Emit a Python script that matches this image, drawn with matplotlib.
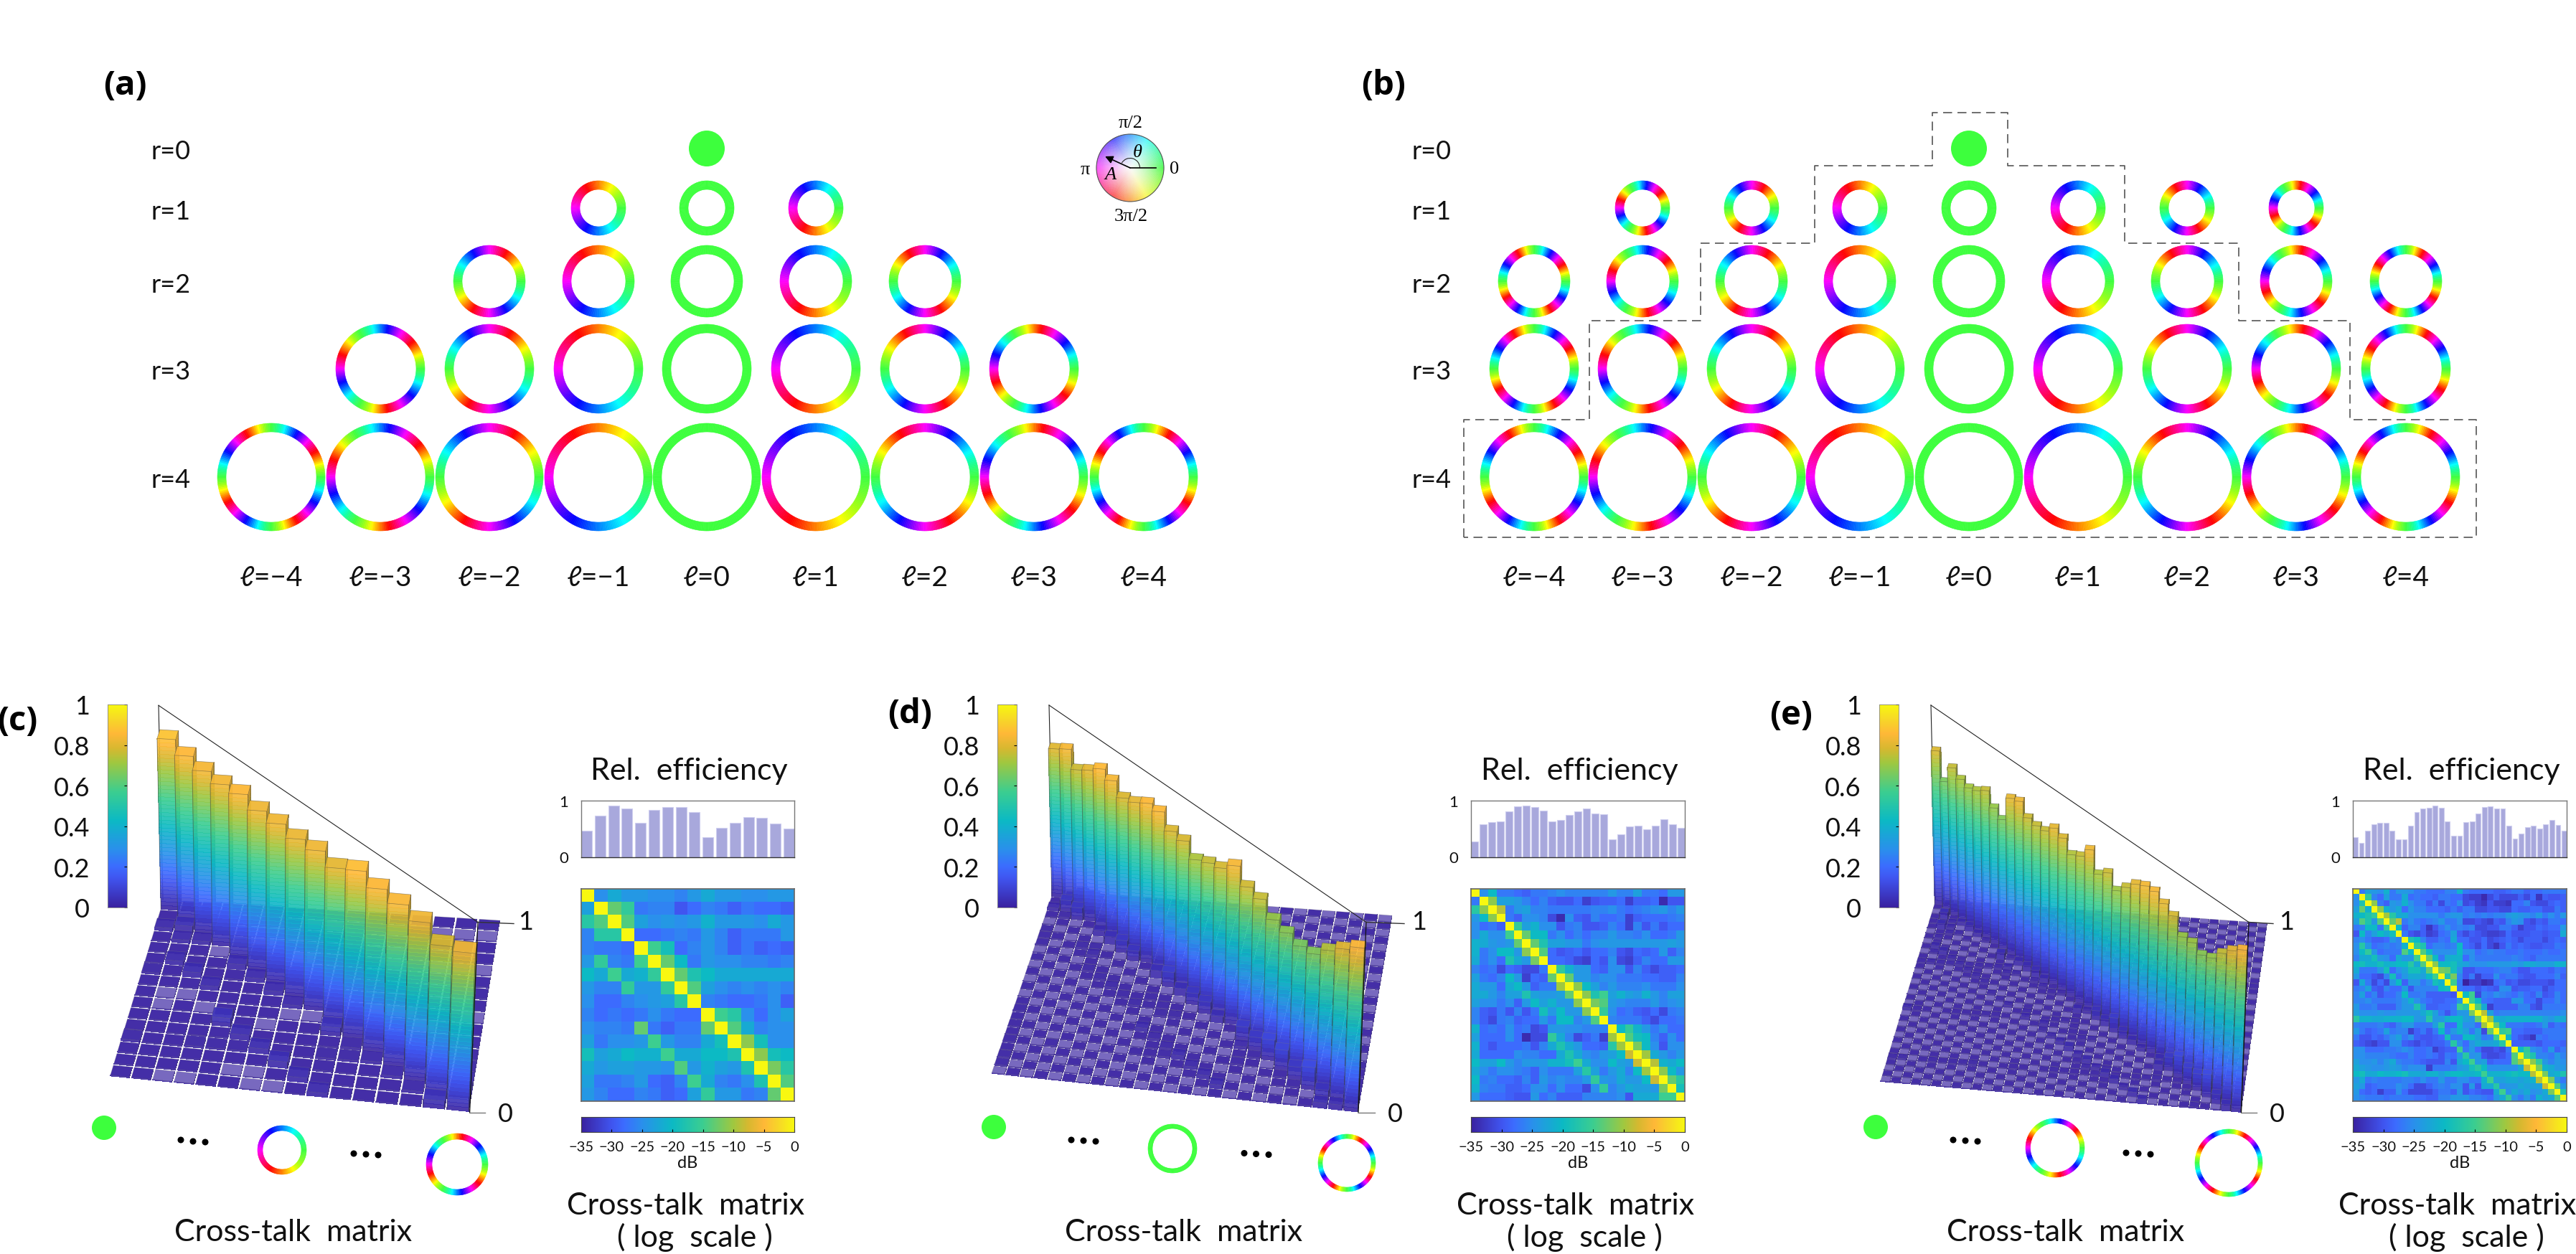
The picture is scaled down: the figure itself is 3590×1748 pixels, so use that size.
"""Mode rings for OAM/radial modes and cross-talk panels, redrawn with matplotlib."""
import numpy as np

import matplotlib
matplotlib.use("Agg")
import matplotlib.pyplot as plt
from matplotlib.collections import PolyCollection
from matplotlib.colors import LinearSegmentedColormap, hsv_to_rgb
from matplotlib.patches import Arc, Circle

# ---- data ----
L_VALUES = [-4, -3, -2, -1, 0, 1, 2, 3, 4]
R_VALUES = [0, 1, 2, 3, 4]
MAX_L_A = [0, 1, 2, 3, 4]   # largest |l| drawn per r, panel (a)
MAX_L_B = [0, 3, 4, 4, 4]   # same, panel (b)

TICKS_3D = [0, 0.2, 0.4, 0.6, 0.8, 1]
TICKS_DB = [-35, -30, -25, -20, -15, -10, -5, 0]

EFF_C = [.46, .73, .91, .86, .61, .83, .89, .89, .79, .35, .52, .60, .71, .69, .59, .50]
EFF_D = [.27, .58, .62, .63, .81, .90, .91, .88, .82, .63, .65, .74, .81, .86, .77, .76,
         .31, .40, .54, .55, .49, .56, .67, .58, .51]
EFF_E = [.35, .25, .46, .58, .61, .61, .47, .31, .31, .55, .80, .86, .87, .91, .87, .63, .38, .38,
         .62, .63, .77, .88, .90, .86, .86, .55, .33, .41, .53, .55, .50, .58, .65, .57, .46]

DIAG_C = [.88, .855, .84, .835, .85, .83, .83, .82, .83, .81, .87, .85, .845, .83, .785, .83]
DIAG_D = [.80, .84, .77, .81, .86, .84, .79, .81, .85, .85, .79, .785, .73, .76, .78, .84,
          .775, .76, .70, .68, .66, .67, .74, .80, .86]
DIAG_E = [.79, .66, .76, .73, .715, .73, .76, .70, .67, .81, .825, .77, .76, .765, .81, .79, .735, .76,
          .825, .73, .77, .71, .76, .81, .835, .84, .81, .78, .705, .71, .68, .70, .76, .81, .85]

DB_C = [
    [0, -25, -22, -24, -24, -25, -25, -26, -24, -22, -24, -24, -25, -25, -24, -24],
    [-23, 0, -13, -16, -27, -26, -26, -30, -28, -26, -27, -29, -27, -28, -28, -29],
    [-17, -14, 0, -14, -23, -25, -24, -25, -24, -21, -24, -24, -24, -25, -22, -24],
    [-26, -17, -17, 0, -28, -28, -27, -26, -27, -24, -26, -29, -27, -27, -27, -24],
    [-26, -27, -27, -28, 0, -15, -19, -28, -26, -24, -26, -29, -27, -29, -28, -29],
    [-24, -16, -26, -27, -15, 0, -13, -20, -27, -24, -25, -25, -26, -26, -27, -26],
    [-20, -22, -15, -22, -21, -16, 0, -13, -18, -20, -22, -22, -22, -22, -22, -22],
    [-24, -26, -26, -16, -24, -24, -16, 0, -14, -23, -25, -26, -25, -26, -25, -26],
    [-25, -28, -28, -26, -25, -24, -23, -17, 0, -26, -27, -28, -28, -27, -25, -29],
    [-26, -28, -27, -28, -27, -25, -27, -28, -28, 0, -15, -17, -25, -28, -25, -23],
    [-25, -26, -26, -27, -13, -27, -29, -27, -27, -13, 0, -14, -22, -26, -25, -25],
    [-23, -27, -25, -25, -24, -15, -24, -26, -26, -22, -19, 0, -11, -19, -25, -25],
    [-19, -23, -22, -20, -21, -21, -15, -22, -22, -20, -20, -18, 0, -11, -19, -20],
    [-22, -24, -23, -23, -24, -24, -25, -14, -24, -21, -23, -24, -18, 0, -12, -17],
    [-23, -27, -27, -26, -24, -28, -29, -26, -15, -22, -26, -27, -25, -18, 0, -14],
    [-24, -26, -28, -28, -26, -27, -29, -28, -23, -16, -24, -24, -27, -26, -13, 0],
]

DB_D = [
    [0, -25, -20, -27, -27, -28, -29, -27, -27, -26, -25, -26, -26, -26, -26, -26, -24, -26, -26, -23, -27, -27, -28, -24, -24],
    [-27, 0, -11, -23, -23, -24, -26, -28, -26, -29, -30, -30, -28, -32, -30, -29, -29, -28, -32, -29, -29, -28, -34, -30, -30],
    [-17, -11, 0, -9, -27, -24, -23, -26, -26, -27, -27, -27, -27, -27, -26, -26, -25, -27, -28, -27, -26, -25, -24, -26, -24],
    [-24, -20, -11, 0, -27, -29, -25, -25, -26, -31, -34, -25, -29, -30, -26, -28, -28, -27, -32, -29, -28, -28, -28, -27, -26],
    [-25, -28, -27, -29, 0, -16, -23, -21, -25, -25, -30, -27, -26, -30, -30, -29, -26, -28, -32, -26, -30, -27, -30, -28, -28],
    [-25, -22, -25, -25, -15, 0, -13, -20, -20, -27, -25, -28, -26, -28, -26, -26, -24, -26, -26, -27, -25, -28, -28, -27, -24],
    [-21, -22, -24, -25, -24, -13, 0, -13, -18, -23, -23, -24, -24, -27, -25, -24, -24, -24, -24, -24, -24, -24, -24, -23, -24],
    [-21, -27, -25, -20, -20, -24, -11, 0, -14, -28, -30, -29, -28, -30, -28, -28, -26, -30, -31, -28, -29, -28, -24, -29, -26],
    [-22, -27, -25, -28, -18, -22, -24, -12, 0, -28, -28, -29, -31, -32, -28, -30, -25, -31, -32, -29, -26, -28, -28, -24, -24],
    [-26, -28, -27, -31, -28, -29, -31, -31, -27, 0, -16, -21, -24, -24, -28, -29, -25, -25, -30, -26, -29, -31, -29, -29, -28],
    [-23, -27, -28, -26, -20, -24, -32, -28, -29, -13, 0, -13, -24, -24, -26, -25, -25, -27, -27, -27, -28, -28, -29, -29, -26],
    [-22, -24, -24, -28, -22, -20, -24, -29, -27, -27, -10, 0, -11, -20, -23, -26, -24, -26, -26, -26, -25, -27, -27, -27, -25],
    [-22, -22, -24, -26, -23, -23, -18, -23, -24, -24, -23, -13, 0, -11, -18, -15, -23, -21, -23, -24, -21, -24, -26, -23, -23],
    [-23, -25, -25, -27, -25, -29, -24, -20, -23, -21, -24, -24, -11, 0, -12, -14, -24, -25, -26, -26, -26, -24, -26, -25, -24],
    [-26, -29, -30, -27, -30, -26, -30, -27, -19, -24, -20, -24, -24, -11, 0, -16, -25, -28, -27, -29, -30, -28, -31, -27, -26],
    [-26, -29, -31, -27, -26, -29, -28, -28, -24, -27, -20, -20, -26, -24, -14, 0, -26, -27, -27, -27, -29, -31, -28, -28, -27],
    [-21, -28, -27, -28, -25, -28, -27, -31, -30, -24, -24, -25, -25, -26, -26, -26, 0, -20, -16, -21, -24, -27, -25, -28, -28],
    [-23, -28, -28, -28, -25, -28, -34, -31, -31, -16, -22, -26, -31, -29, -27, -32, -10, 0, -14, -19, -20, -26, -29, -25, -28],
    [-21, -28, -30, -28, -28, -28, -27, -30, -26, -22, -18, -22, -24, -28, -28, -29, -17, -10, 0, -12, -20, -25, -30, -25, -25],
    [-22, -28, -28, -28, -28, -25, -26, -26, -28, -28, -22, -18, -22, -25, -26, -24, -23, -20, -8, 0, -10, -22, -24, -26, -24],
    [-20, -23, -23, -20, -24, -26, -24, -24, -24, -21, -21, -19, -15, -22, -25, -25, -20, -23, -24, -8, 0, -9, -21, -22, -20],
    [-22, -25, -27, -25, -25, -26, -27, -29, -25, -27, -27, -27, -23, -17, -23, -27, -24, -22, -26, -20, -10, 0, -11, -20, -24],
    [-20, -27, -26, -28, -28, -29, -26, -29, -24, -26, -25, -26, -26, -24, -16, -24, -25, -22, -24, -24, -20, -8, 0, -13, -17],
    [-21, -26, -27, -27, -29, -29, -28, -25, -25, -28, -25, -28, -28, -31, -25, -16, -26, -24, -22, -23, -23, -24, -12, 0, -19],
    [-24, -28, -28, -28, -29, -30, -30, -24, -28, -26, -29, -29, -29, -26, -26, -26, -26, -25, -30, -22, -22, -22, -15, -15, 0],
]

DB_E = [
    [0, -27, -23, -24, -25, -21, -27, -24, -24, -25, -27, -27, -28, -28, -28, -26, -26, -21, -27, -28, -28, -28, -28, -29, -29, -28, -27, -27, -29, -28, -28, -27, -27, -27, -27],
    [-25, 0, -16, -26, -28, -23, -27, -27, -22, -28, -27, -28, -28, -29, -27, -27, -28, -28, -31, -32, -32, -34, -31, -29, -31, -31, -31, -29, -31, -28, -33, -29, -30, -30, -29],
    [-25, -18, 0, -11, -27, -29, -24, -25, -21, -25, -27, -27, -30, -27, -31, -27, -28, -25, -31, -30, -32, -33, -30, -32, -32, -33, -28, -28, -26, -30, -31, -31, -29, -28, -29],
    [-23, -13, -21, 0, -11, -21, -24, -22, -28, -24, -26, -26, -28, -28, -28, -29, -27, -29, -27, -27, -31, -31, -30, -30, -31, -31, -28, -29, -29, -28, -28, -30, -30, -27, -29],
    [-21, -20, -18, -16, 0, -10, -17, -22, -22, -25, -25, -25, -25, -25, -27, -25, -24, -24, -27, -26, -27, -26, -27, -26, -26, -24, -23, -24, -25, -26, -24, -27, -25, -27, -24],
    [-23, -14, -18, -24, -14, 0, -13, -9, -27, -25, -27, -28, -27, -26, -24, -27, -27, -25, -31, -31, -30, -31, -32, -29, -30, -26, -24, -25, -30, -31, -29, -30, -27, -27, -28],
    [-27, -26, -20, -20, -27, -16, 0, -20, -29, -26, -26, -29, -33, -30, -27, -25, -27, -26, -27, -26, -31, -31, -30, -30, -27, -27, -29, -32, -30, -30, -28, -29, -28, -28, -24],
    [-30, -20, -26, -23, -20, -22, -19, 0, -27, -30, -31, -29, -32, -31, -28, -27, -23, -29, -31, -29, -30, -31, -32, -32, -31, -28, -30, -30, -30, -29, -29, -30, -29, -29, -22],
    [-26, -25, -27, -29, -29, -28, -24, -26, 0, -18, -20, -26, -29, -29, -27, -28, -22, -28, -28, -30, -30, -28, -31, -30, -29, -28, -29, -31, -29, -29, -29, -31, -29, -28, -29],
    [-25, -17, -24, -28, -27, -26, -27, -26, -21, 0, -16, -18, -28, -26, -26, -27, -26, -20, -28, -29, -31, -28, -31, -33, -30, -27, -29, -28, -29, -30, -30, -29, -29, -27, -28],
    [-25, -20, -16, -24, -28, -27, -27, -27, -14, -20, 0, -14, -20, -25, -25, -25, -25, -20, -25, -25, -28, -27, -26, -27, -27, -28, -28, -27, -28, -28, -28, -27, -28, -28, -27],
    [-26, -22, -22, -19, -24, -25, -28, -22, -24, -24, -15, 0, -13, -20, -27, -22, -21, -21, -28, -25, -27, -27, -27, -27, -27, -27, -26, -27, -28, -29, -27, -27, -27, -27, -27],
    [-20, -19, -21, -21, -19, -21, -21, -20, -20, -17, -22, -14, 0, -11, -20, -20, -19, -22, -23, -25, -25, -25, -24, -24, -24, -24, -23, -24, -22, -22, -23, -23, -23, -21, -21],
    [-22, -27, -27, -27, -24, -19, -28, -25, -23, -19, -19, -22, -13, 0, -12, -13, -19, -24, -30, -30, -28, -28, -28, -27, -26, -26, -28, -30, -30, -28, -28, -28, -29, -27, -28],
    [-24, -28, -28, -30, -31, -26, -19, -27, -24, -22, -22, -23, -20, -15, 0, -18, -12, -26, -30, -27, -32, -29, -29, -25, -28, -27, -27, -29, -30, -30, -28, -28, -28, -26, -29],
    [-30, -22, -27, -31, -28, -31, -24, -20, -29, -24, -24, -27, -25, -19, -21, 0, -15, -27, -35, -32, -32, -34, -33, -28, -27, -30, -29, -31, -31, -30, -30, -30, -31, -28, -28],
    [-27, -26, -23, -29, -30, -26, -28, -28, -24, -30, -26, -26, -26, -26, -20, -19, 0, -27, -28, -28, -30, -28, -29, -30, -25, -25, -30, -29, -29, -28, -28, -31, -29, -28, -28],
    [-26, -23, -28, -26, -30, -28, -28, -26, -20, -27, -27, -26, -29, -29, -29, -29, -30, 0, -20, -15, -31, -26, -27, -25, -26, -27, -28, -26, -28, -29, -26, -30, -29, -26, -28],
    [-26, -26, -25, -27, -27, -27, -27, -26, -24, -21, -25, -27, -28, -29, -29, -28, -28, -24, 0, -15, -20, -27, -28, -29, -29, -29, -24, -24, -28, -28, -31, -28, -28, -26, -28],
    [-24, -27, -27, -26, -29, -29, -29, -26, -24, -24, -18, -24, -29, -29, -28, -28, -27, -15, -17, 0, -14, -22, -32, -29, -29, -29, -29, -26, -26, -30, -31, -27, -27, -27, -27],
    [-23, -25, -25, -25, -24, -25, -25, -24, -24, -24, -24, -22, -19, -23, -27, -30, -27, -24, -24, -12, 0, -9, -23, -27, -26, -26, -26, -26, -26, -26, -26, -26, -26, -26, -25],
    [-17, -21, -21, -22, -22, -21, -21, -21, -20, -20, -24, -24, -17, -24, -24, -21, -20, -20, -23, -24, -13, 0, -10, -21, -22, -21, -21, -21, -21, -21, -21, -23, -24, -22, -22],
    [-26, -27, -27, -27, -26, -28, -29, -26, -24, -24, -27, -27, -27, -23, -17, -28, -28, -20, -25, -25, -28, -10, 0, -13, -20, -27, -27, -27, -28, -28, -27, -24, -29, -27, -28],
    [-24, -27, -29, -28, -27, -23, -27, -26, -26, -32, -29, -27, -30, -27, -20, -27, -24, -21, -23, -27, -23, -31, -13, 0, -16, -15, -28, -28, -29, -29, -29, -27, -27, -27, -27],
    [-27, -30, -30, -28, -29, -27, -25, -23, -27, -25, -29, -30, -30, -29, -28, -19, -27, -27, -20, -20, -23, -27, -26, -15, 0, -21, -28, -30, -31, -33, -27, -28, -27, -27, -27],
    [-29, -30, -31, -32, -30, -30, -25, -25, -29, -30, -31, -29, -30, -29, -29, -27, -17, -25, -28, -24, -22, -23, -23, -22, -17, 0, -29, -29, -29, -29, -30, -28, -28, -28, -29],
    [-25, -25, -28, -28, -28, -27, -27, -26, -25, -26, -28, -28, -27, -32, -30, -29, -29, -15, -27, -24, -28, -31, -31, -30, -31, -27, 0, -20, -16, -25, -26, -28, -24, -29, -27],
    [-25, -25, -26, -26, -26, -26, -27, -28, -28, -26, -28, -28, -27, -28, -30, -27, -28, -24, -17, -25, -24, -30, -31, -31, -30, -28, -14, 0, -15, -18, -26, -26, -27, -24, -26],
    [-23, -25, -25, -24, -26, -24, -22, -26, -27, -27, -28, -29, -30, -30, -30, -26, -30, -22, -20, -15, -24, -23, -29, -28, -28, -28, -14, -10, 0, -11, -16, -24, -26, -24, -25],
    [-22, -23, -24, -25, -25, -24, -23, -24, -26, -25, -25, -25, -32, -27, -27, -27, -26, -24, -23, -19, -17, -20, -25, -25, -25, -25, -25, -22, -8, 0, -12, -21, -22, -24, -24],
    [-20, -19, -22, -22, -20, -21, -21, -20, -19, -22, -22, -23, -21, -21, -23, -21, -20, -20, -21, -21, -20, -15, -21, -21, -21, -20, -19, -20, -20, -9, 0, -12, -22, -21, -18],
    [-24, -22, -27, -26, -27, -27, -27, -27, -26, -26, -27, -25, -27, -27, -24, -27, -27, -25, -25, -27, -27, -21, -15, -23, -23, -22, -22, -23, -22, -21, -9, 0, -12, -24, -27],
    [-23, -24, -29, -28, -27, -27, -27, -25, -26, -28, -31, -31, -29, -27, -26, -27, -25, -25, -30, -24, -30, -22, -22, -17, -25, -24, -24, -22, -23, -23, -23, -8, 0, -14, -24],
    [-24, -28, -29, -28, -32, -29, -29, -25, -28, -31, -31, -31, -31, -29, -27, -27, -29, -24, -30, -28, -29, -30, -30, -22, -15, -25, -22, -24, -22, -25, -24, -22, -12, 0, -18],
    [-25, -26, -27, -27, -27, -28, -27, -27, -27, -27, -28, -28, -29, -29, -26, -26, -24, -24, -24, -26, -26, -27, -28, -24, -22, -16, -25, -27, -24, -27, -21, -23, -22, -14, 0],
]

# ---- layout, in pixels of the 3590x1749 figure ----
W, H = 3590, 1749
COLS_A = [378, 530, 682, 834, 985, 1137, 1289, 1441, 1594]
COLS_B = [2138, 2289, 2441, 2592, 2744, 2896, 3048, 3200, 3353]
ROWS_Y = [208, 291, 393, 515, 666]
RING_R = [25, 38, 50, 62, 75]
RING_W = 12
LABEL_FONT = ["Lato", "DejaVu Sans"]
BOLD_FONT = ["Open Sans", "DejaVu Sans"]
TXT = dict(family=LABEL_FONT, fontweight="normal", color="#111111")
GREEN = hsv_to_rgb([120 / 360, .76, 1])

cmap = LinearSegmentedColormap.from_list("xtalk", [
    (0.0, "#3A22A0"), (5 / 35, "#4055F0"), (7 / 35, "#3C6CFF"), (10 / 35, "#2A90EC"),
    (15 / 35, "#0CBAC4"), (20 / 35, "#3CCE90"), (25 / 35, "#A0C840"), (27.5 / 35, "#D8B830"),
    (30 / 35, "#FFB838"), (32.5 / 35, "#F7D828"), (1.0, "#F8F810")], N=512)

fig = plt.figure(figsize=(W / 100, H / 100), dpi=100)
canvas = fig.add_axes([0, 0, 1, 1])
canvas.set_xlim(0, W)
canvas.set_ylim(H, 0)
canvas.axis("off")


def px_axes(x0, y0, x1, y1):
    return fig.add_axes([x0 / W, 1 - y1 / H, (x1 - x0) / W, (y1 - y0) / H])


def phase_rgb(theta, sat=None):
    hue = (120 + np.degrees(theta)) % 360
    if sat is None:
        # the pure-phase green is a little paler than the rest of the wheel
        sat = 1 - .24 * np.exp(-((hue - 120) / 35) ** 2)
    else:
        sat = np.full_like(hue, sat)
    return hsv_to_rgb(np.column_stack([hue / 360, sat, np.ones_like(hue)]))


def ring(cx, cy, outer, width, l, offset=0.0):
    phi = np.radians(np.arange(0, 362, 2))
    inner = outer - width
    quads = []
    for a, b in zip(phi[:-1], phi[1:]):
        quads.append([(cx + outer * np.cos(a), cy - outer * np.sin(a)),
                      (cx + outer * np.cos(b), cy - outer * np.sin(b)),
                      (cx + inner * np.cos(b), cy - inner * np.sin(b)),
                      (cx + inner * np.cos(a), cy - inner * np.sin(a))])
    rgb = phase_rgb(l * (phi[:-1] + np.radians(1)) + offset)
    canvas.add_collection(PolyCollection(quads, facecolors=rgb, edgecolors=rgb, linewidths=.4))


def dot(cx, cy, r, color=GREEN):
    canvas.add_patch(Circle((cx, cy), r, facecolor=color, edgecolor="none"))


def mode_panel(cols, max_l, label_x):
    for r, limit in zip(R_VALUES, max_l):
        y = ROWS_Y[r]
        canvas.text(label_x, y + 4, f"r={r}", ha="center", va="center", fontsize=26, **TXT)
        for l, x in zip(L_VALUES, cols):
            if abs(l) > limit:
                continue
            if r == 0:
                dot(x, y, RING_R[0])
            else:
                ring(x, y, RING_R[r], RING_W, l)
    for l, x in zip(L_VALUES, cols):
        txt = f"ℓ={l}".replace("-", "\u2212")
        canvas.text(x, 806, txt, ha="center", va="center", fontsize=28, **TXT)


def make_proj(bl, fl, fr, br, tl, tr):
    # floor: unit square -> quad; height: straight up with a slight fan-out
    src = [(0, 0), (0, 1), (1, 1), (1, 0)]
    dst = [bl, fl, fr, br]
    a, b = [], []
    for (u, v), (x, y) in zip(src, dst):
        a.append([u, v, 1, 0, 0, 0, -u * x, -v * x])
        a.append([0, 0, 0, u, v, 1, -u * y, -v * y])
        b += [x, y]
    h = np.linalg.solve(np.array(a, float), np.array(b, float))
    dx_l, dx_r = tl[0] - bl[0], tr[0] - fr[0]
    k = (dx_r - dx_l) / (fr[0] - bl[0])
    x0 = bl[0] - dx_l / k
    h_l, h_r = bl[1] - tl[1], fr[1] - tr[1]

    def proj(u, v, z):
        w = h[6] * u + h[7] * v + 1
        x = (h[0] * u + h[1] * v + h[2]) / w
        y = (h[3] * u + h[4] * v + h[5]) / w
        hh = h_l + (h_r - h_l) * (y - bl[1]) / (fr[1] - bl[1])
        return x + z * k * (x - x0), y - z * hh
    return proj


def bars_3d(db, diag, corners, pale_db, checker):
    bl, fl, fr, br, tl, tr = corners
    proj = make_proj(bl, fl, fr, br, tl, tr)
    n = len(diag)
    gu, gv = .05, .08
    polys, faces, edges, widths, aa = [], [], [], [], []

    def add(pts, face, edge="none", lw=0.0, smooth=False):
        polys.append(pts)
        faces.append(face)
        edges.append(edge)
        widths.append(lw)
        aa.append(smooth)

    grey = (.25, .25, .25, .5)
    for i in range(n):
        for j in range(n):
            val = diag[i] if i == j else max(diag[i] * 10 ** (db[i][j] / 10), .004)
            u0, u1 = (j + gu) / n, (j + 1 - gu) / n
            v0, v1 = (i + gv) / n, (i + 1 - gv) / n
            zs = np.linspace(0, val, max(1, int(val * 50)) + 1)
            for z0, z1 in zip(zs[:-1], zs[1:]):
                col = np.array(cmap(.5 * (z0 + z1)))
                col[3] = .9
                side = col.copy()
                side[:3] *= .82
                add([proj(u0, v1, z0), proj(u1, v1, z0), proj(u1, v1, z1), proj(u0, v1, z1)], tuple(col))
                add([proj(u1, v1, z0), proj(u1, v0, z0), proj(u1, v0, z1), proj(u1, v1, z1)], tuple(side))
            top = np.array(cmap(val))
            pale = i != j and db[i][j] <= pale_db and (not checker or (i + j) % 2 == 0)
            if pale:
                top[:3] = top[:3] * .72 + .28  # the faintest cells read paler
            top[3] = .95
            add([proj(u0, v0, val), proj(u1, v0, val), proj(u1, v1, val), proj(u0, v1, val)],
                tuple(top), (.5, .5, .5, .35) if i != j else grey, .5, True)
            if val > .03:
                for u, v in [(u0, v1), (u1, v1), (u1, v0)]:
                    add([proj(u, v, 0), proj(u, v, val)], (0, 0, 0, 0), grey, .8, True)
    coll = PolyCollection(polys, facecolors=faces, edgecolors=edges, linewidths=widths, zorder=3)
    coll.set_antialiased(aa)
    canvas.add_collection(coll)


def panel_3d(db, diag, corners, bar_x, tick_ends, label_xs, pale_db, checker=False):
    bl, fl, fr, br, tl, tr = corners
    canvas.plot([tl[0], bl[0]], [tl[1], bl[1]], color="#222222", lw=.8, zorder=2)
    bars_3d(db, diag, corners, pale_db, checker)
    canvas.plot([tl[0], tr[0]], [tl[1], tr[1]], color="#222222", lw=.8, zorder=4)
    canvas.plot([tr[0], fr[0]], [tr[1], fr[1]], color="#111111", lw=.9, zorder=4)
    canvas.plot([tr[0], tick_ends[0]], [tr[1], tr[1] + 2], color="#333333", lw=1, zorder=4)
    canvas.plot([fr[0], tick_ends[1]], [fr[1], fr[1]], color="#777777", lw=1, zorder=4)
    canvas.text(label_xs[0], 1286, "1", ha="center", va="center", fontsize=26, **TXT)
    canvas.text(label_xs[1], 1554, "0", ha="center", va="center", fontsize=26, **TXT)

    cb = px_axes(bar_x, 983, bar_x + 27, 1266)
    cb.imshow(np.linspace(1, 0, 256)[:, None], cmap=cmap, vmin=0, vmax=1, aspect="auto", extent=(0, 1, 0, 1))
    cb.set_xticks([])
    cb.set_yticks(TICKS_3D)
    cb.set_yticklabels([f"{t:g}" for t in TICKS_3D], fontsize=26, **TXT)
    cb.tick_params(axis="y", left=False, right=True, direction="in", length=3, pad=18, width=.8)
    for s in cb.spines.values():
        s.set_color("#888888")
        s.set_linewidth(.6)


def panel_logs(db, eff, box, title_x, cross_x, log_x):
    x0, x1 = box
    n = len(eff)
    ax = px_axes(x0, 1117, x1, 1195.5)
    ax.bar(np.arange(n), eff, width=.8, color="#A8A8DC", edgecolor="#CFCFEF", linewidth=.8)
    ax.set_xlim(-.4, n - 1 + .4)
    ax.set_ylim(0, 1)
    ax.set_xticks([])
    ax.set_yticks([0, 1])
    ax.set_yticklabels(["0", "1"], fontsize=16, **TXT)
    ax.tick_params(axis="y", length=0, pad=13)
    for s in ax.spines.values():
        s.set_color("#777777")
        s.set_linewidth(1)
    ax.spines["bottom"].set_color("#333333")

    mat = px_axes(x0, 1239.5, x1, 1536)
    mat.imshow(np.array(db), cmap=cmap, vmin=-35, vmax=0, aspect="auto", interpolation="nearest")
    mat.set_xticks([])
    mat.set_yticks([])
    for s in mat.spines.values():
        s.set_color("#666666")
        s.set_linewidth(1.2)

    cb = px_axes(x0, 1558, x1, 1579)
    cb.imshow(np.linspace(-35, 0, 512)[None, :], cmap=cmap, vmin=-35, vmax=0, aspect="auto", extent=(-35, 0, 0, 1))
    cb.set_yticks([])
    cb.set_xticks(TICKS_DB)
    cb.set_xticklabels([str(t).replace("-", "\u2212") for t in TICKS_DB], fontsize=14.5, **TXT)
    cb.tick_params(axis="x", direction="in", length=3, pad=9, width=.8)
    cb.set_xlabel("dB", fontsize=17, labelpad=2, **TXT)
    for s in cb.spines.values():
        s.set_color("#444444")
        s.set_linewidth(.8)

    tkw = dict(ha="center", va="center", fontsize=31, **TXT)
    canvas.text(title_x, 1075, "Rel.  efficiency", **tkw)
    canvas.text(cross_x, 1681, "Cross-talk  matrix", **tkw)
    canvas.text(log_x, 1725, "( log  scale )", **tkw)


def mode_row(spot, dots1, mid, dots2, end):
    dot(*spot, 17)
    for p in dots1 + dots2:
        dot(*p, 4.5, "black")
    ring(*mid)
    ring(*end)


# ---- panels (a), (b) ----
mode_panel(COLS_A, MAX_L_A, 238)
mode_panel(COLS_B, MAX_L_B, 1995)

outline_x = [2040, 2040, 2215, 2215, 2370, 2370, 2529, 2529, 2693, 2693, 2798, 2798, 2961, 2961,
             3120, 3120, 3275, 3275, 3451, 3451, 2040]
outline_y = [750, 586, 586, 447.5, 447.5, 340, 340, 231.5, 231.5, 157.5, 157.5, 231.5, 231.5, 340,
             340, 447.5, 447.5, 586, 586, 750, 750]
canvas.plot(outline_x, outline_y, color="#555555", lw=1.2, ls=(0, (7.5, 4.5)))

# phase legend
wc, wy, wr = 1575, 235, 47
rho = np.linspace(0, 1, 25)
ang = np.radians(np.arange(0, 361, 3))
quads, cols = [], []
for r0, r1 in zip(rho[:-1], rho[1:]):
    for a0, a1 in zip(ang[:-1], ang[1:]):
        quads.append([(wc + wr * r0 * np.cos(a0), wy - wr * r0 * np.sin(a0)),
                      (wc + wr * r1 * np.cos(a0), wy - wr * r1 * np.sin(a0)),
                      (wc + wr * r1 * np.cos(a1), wy - wr * r1 * np.sin(a1)),
                      (wc + wr * r0 * np.cos(a1), wy - wr * r0 * np.sin(a1))])
        cols.append(phase_rgb(np.array([.5 * (a0 + a1)]), sat=.66 * (.5 * (r0 + r1)) ** 1.3)[0] * .98)
canvas.add_collection(PolyCollection(quads, facecolors=cols, edgecolors=cols, linewidths=.3))
canvas.add_patch(Circle((wc, wy), wr, fill=False, edgecolor="#555555", lw=.8))
canvas.plot([wc, wc + 36], [wy, wy], color="black", lw=1.2)
canvas.annotate("", xy=(1540, 219), xytext=(wc, wy),
                arrowprops=dict(arrowstyle="-|>", color="black", lw=1.2, mutation_scale=16, shrinkA=0, shrinkB=0))
canvas.add_patch(Arc((wc, wy), 27, 27, theta1=210, theta2=360, color="#222222", lw=.8))
wkw = dict(ha="center", va="center", fontsize=19, family="Liberation Serif")
canvas.text(1576, 172, "π/2", **wkw)
canvas.text(1512, 237, "π", **wkw)
canvas.text(1637, 236, "0", **wkw)
canvas.text(1576, 302, "3π/2", **wkw)
canvas.text(1585, 213, "θ", style="italic", **wkw)
canvas.text(1547, 244, "A", style="italic", **wkw)

# ---- panels (c), (d), (e) ----
panel_3d(DB_C, DIAG_C, [(227, 1255), (152, 1502), (654.6, 1552), (698, 1284), (221, 984.3), (666, 1286.5)],
         150, (716, 676), (733, 704), -28)
panel_3d(DB_D, DIAG_D, [(1468, 1242), (1381, 1498), (1893, 1552), (1941, 1277.5), (1462, 984), (1904, 1286.5)],
         1390, (1957, 1916), (1977.5, 1944), -22, True)
panel_3d(DB_E, DIAG_E, [(2697.5, 1255), (2620, 1509), (3123.5, 1552), (3160, 1288.5), (2691, 984), (3134, 1286.5)],
         2619, (3168, 3145), (3187, 3173), -22, True)

panel_logs(DB_C, EFF_C, (810, 1107), 960, 955.5, 968)
panel_logs(DB_D, EFF_D, (2050, 2348), 2201, 2196, 2208)
panel_logs(DB_E, EFF_E, (3279, 3577), 3430.5, 3425, 3437)

mode_row((145, 1573), [(252, 1590), (269, 1592), (286, 1593)], (393, 1604, 34, 7, 1),
         [(493, 1609), (510, 1610), (527, 1611)], (637, 1624, 43, 8, 3))
mode_row((1385, 1572), [(1493, 1590), (1510, 1591), (1527, 1592)], (1634, 1602, 34, 6, 0),
         [(1734, 1608.5), (1750.5, 1609.5), (1768, 1610.5)], (1877, 1622, 40, 6, 4))
mode_row((2614, 1572), [(2722, 1590), (2739, 1591), (2756, 1592)], (2864, 1601, 41, 6.5, -3),
         [(2963, 1608), (2980, 1609), (2997, 1610)], (3106, 1622, 47, 6, 4))

ckw = dict(ha="center", va="center", fontsize=31, **TXT)
canvas.text(409, 1718, "Cross-talk  matrix", **ckw)
canvas.text(1650, 1718, "Cross-talk  matrix", **ckw)
canvas.text(2879, 1718, "Cross-talk  matrix", **ckw)

lkw = dict(ha="center", va="center", fontsize=34, fontweight="bold", family=BOLD_FONT)
for txt, x, y in [("(a)", 174, 120), ("(b)", 1928, 120), ("(c)", 24, 1005), ("(d)", 1268, 996), ("(e)", 2496, 998)]:
    canvas.text(x, y, txt, **lkw)

fig.savefig("out.png", dpi=100)
